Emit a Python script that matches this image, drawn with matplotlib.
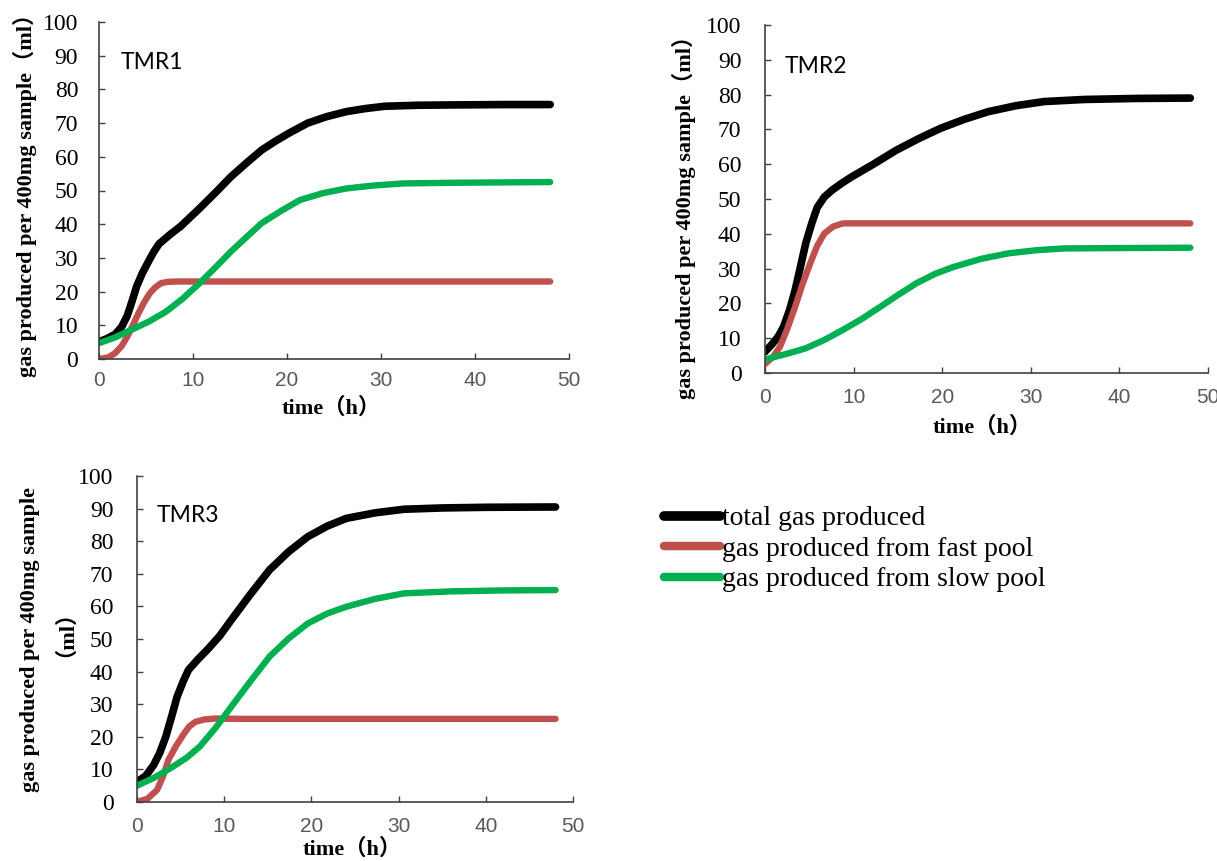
import matplotlib
matplotlib.use('Agg')
import matplotlib.pyplot as plt
from matplotlib.lines import Line2D

W, H = 1217, 861

# values (hours, ml)
# TMR1
t1_total = [0, 0.8, 1.7, 2.4, 3, 3.5, 4, 4.6, 5.2, 5.8, 6.4, 7.5, 8.7, 10.7, 12.4, 14, 15.7, 17.3, 18.8, 20.2, 22.2, 24.2, 26.3, 28.3, 30.4, 34, 38, 43, 48]
tmr1_total = [5.1, 6, 7.3, 9.5, 12.8, 17, 21.5, 25.4, 28.6, 31.7, 34.2, 36.8, 39.4, 44.7, 49.4, 54, 58.2, 62, 64.7, 67, 70, 71.9, 73.4, 74.3, 75, 75.3, 75.4, 75.5, 75.5]
t1_fast = [0, 1, 1.7, 2.4, 3, 3.6, 4.2, 4.8, 5.4, 6, 6.6, 7.3, 8.3, 12, 48]
tmr1_fast = [0, 0.5, 1.7, 3.8, 6.6, 10, 13.6, 16.8, 19.5, 21.3, 22.5, 22.9, 23, 23, 23]
t1_slow = [0, 1.7, 3.4, 5.3, 7.1, 8.9, 10.7, 12.4, 14, 15.7, 17.3, 19.4, 21.4, 23.8, 26.3, 29.3, 32.4, 38, 48]
tmr1_slow = [4.7, 6.4, 8.6, 11.1, 14, 17.9, 22.5, 27.2, 31.8, 36.2, 40.3, 44, 47.2, 49.2, 50.6, 51.5, 52.1, 52.3, 52.5]

# TMR2
t2_total = [0, 0.8, 1.5, 2.1, 2.8, 3.4, 4, 4.6, 5.3, 5.9, 6.7, 7.6, 8.7, 9.8, 12.3, 14.8, 17.3, 19.8, 22.5, 25.2, 28.3, 31.5, 36, 42, 48]
tmr2_total = [6.1, 8.3, 10.5, 13.3, 18.3, 23.8, 30.5, 37.3, 43.2, 47.6, 50.6, 52.6, 54.6, 56.4, 60.1, 64, 67.3, 70.3, 72.9, 75.1, 76.8, 78, 78.6, 78.9, 79]
t2_fast = [0, 0.9, 1.7, 2.5, 3.4, 4.2, 5.1, 5.9, 6.7, 7.7, 8.8, 12, 48]
tmr2_fast = [2.6, 4.6, 7.6, 12.6, 19, 25.3, 31.5, 36.6, 40.1, 42.1, 43, 43, 43]
t2_slow = [0, 2.3, 4.6, 6.7, 8.8, 10.9, 13, 15, 17.1, 19.2, 21.3, 24.4, 27.5, 30.7, 33.8, 40, 48]
tmr2_slow = [3.9, 5.4, 7.1, 9.5, 12.4, 15.5, 19, 22.4, 25.8, 28.5, 30.5, 32.8, 34.4, 35.3, 35.8, 35.9, 36]

# TMR3
t3_total = [0, 1, 1.9, 2.6, 3.3, 4, 4.6, 5.3, 5.9, 7, 8.1, 9.5, 10.8, 13, 15.2, 17.4, 19.6, 21.8, 24, 27.3, 30.6, 35, 40, 48]
tmr3_total = [6.2, 8, 11.3, 15, 20, 26.5, 32.3, 37, 40.5, 43.8, 46.8, 51, 55.8, 63.7, 71.2, 76.8, 81.4, 84.6, 87, 88.7, 89.8, 90.2, 90.4, 90.5]
t3_fast = [0, 1.2, 2.3, 3, 3.6, 4.5, 5.4, 6, 6.7, 7.7, 8.9, 12, 48]
tmr3_fast = [0, 1, 3.7, 8, 12.9, 17.3, 21, 23.2, 24.6, 25.3, 25.6, 25.5, 25.5]
t3_slow = [0, 2, 4.1, 5.7, 7.2, 9, 10.8, 13, 15.2, 17.4, 19.6, 21.8, 24, 27.3, 30.6, 36, 42, 48]
tmr3_slow = [5, 7.5, 10.8, 13.6, 17, 22.7, 29.2, 37, 44.6, 50.2, 54.8, 57.8, 59.9, 62.3, 64, 64.6, 64.9, 65]

panels = ['TMR1', 'TMR2', 'TMR3']
series_names = ['total gas produced', 'gas produced from fast pool', 'gas produced from slow pool']
colors = ['#000000', '#C0504D', '#00B050']
widths = [5.5, 4.6, 4.6]

ylab = 'gas produced per 400mg sample（ml）'
xlab = 'time（h）'
serif = ['Liberation Serif', 'Noto Sans CJK SC']

fig = plt.figure(figsize=(W / 100, H / 100), dpi=100)


def px_axes(x0, x1, ytop, ybot):
    return fig.add_axes([x0 / W, 1 - ybot / H, (x1 - x0) / W, (ybot - ytop) / H])


def draw(ax, data, name, ypad, xpad):
    for (t, v), c, lw in zip(data, colors, widths):
        ax.plot(t, v, color=c, lw=lw, solid_capstyle='round', solid_joinstyle='round')
    ax.set_xlim(0, 50)
    ax.set_ylim(0, 100)
    ax.set_xticks(range(0, 51, 10))
    ax.set_yticks(range(0, 101, 10))
    for s in ['top', 'right']:
        ax.spines[s].set_visible(False)
    for s in ['left', 'bottom']:
        ax.spines[s].set_color('#404040')
        ax.spines[s].set_linewidth(1.2)
    ax.tick_params(axis='both', direction='in', length=4, width=1, color='#404040')
    ax.tick_params(axis='y', pad=ypad)
    ax.tick_params(axis='x', pad=xpad)
    for lb in ax.get_yticklabels():
        lb.set_fontfamily('Liberation Serif')
        lb.set_fontsize(17)
    for lb in ax.get_xticklabels():
        lb.set_fontfamily('Liberation Sans')
        lb.set_fontsize(15)
        lb.set_color('#595959')
    ax.text(0.045, 0.88, name, transform=ax.transAxes, fontsize=16.5,
            family='Lato', ha='left', va='center')


ax1 = px_axes(99, 569, 22, 359)
draw(ax1, [(t1_total, tmr1_total), (t1_fast, tmr1_fast), (t1_slow, tmr1_slow)], panels[0], 15, 9)
ax2 = px_axes(765, 1208, 25, 373)
draw(ax2, [(t2_total, tmr2_total), (t2_fast, tmr2_fast), (t2_slow, tmr2_slow)], panels[1], 17, 11)
ax3 = px_axes(137, 573, 476, 802)
draw(ax3, [(t3_total, tmr3_total), (t3_fast, tmr3_fast), (t3_slow, tmr3_slow)], panels[2], 17, 11)

# axis titles
fig.text(25 / W, 1 - 190 / H, ylab, rotation=90, ha='center', va='center',
         fontsize=16, fontweight='bold', family=serif)
fig.text(684 / W, 1 - 212 / H, ylab, rotation=90, ha='center', va='center',
         fontsize=16, fontweight='bold', family=serif)
fig.text(30 / W, 1 - 640 / H, 'gas produced per 400mg sample', rotation=90, ha='center',
         va='center', fontsize=16, fontweight='bold', family=serif)
fig.text(54 / W, 1 - 622 / H, '（ml）', rotation=90, ha='center', va='center',
         fontsize=16, fontweight='bold', family=serif)

fig.text(331 / W, 1 - 408 / H, xlab, ha='center', va='center',
         fontsize=16, fontweight='bold', family=serif)
fig.text(982 / W, 1 - 427 / H, xlab, ha='center', va='center',
         fontsize=16, fontweight='bold', family=serif)
fig.text(352 / W, 1 - 849 / H, xlab, ha='center', va='center',
         fontsize=16, fontweight='bold', family=serif)

handles = [Line2D([], [], color=c, lw=lw + 1.5, solid_capstyle='round') for c, lw in zip(colors, widths)]
fig.legend(handles, series_names, loc='upper left', bbox_to_anchor=(664 / W, 1 - 506 / H),
           frameon=False, prop={'family': 'Liberation Serif', 'size': 20},
           handlelength=2.0, handletextpad=0.08, labelspacing=0.18,
           borderpad=0, borderaxespad=0)

fig.savefig('out.png', dpi=100)
